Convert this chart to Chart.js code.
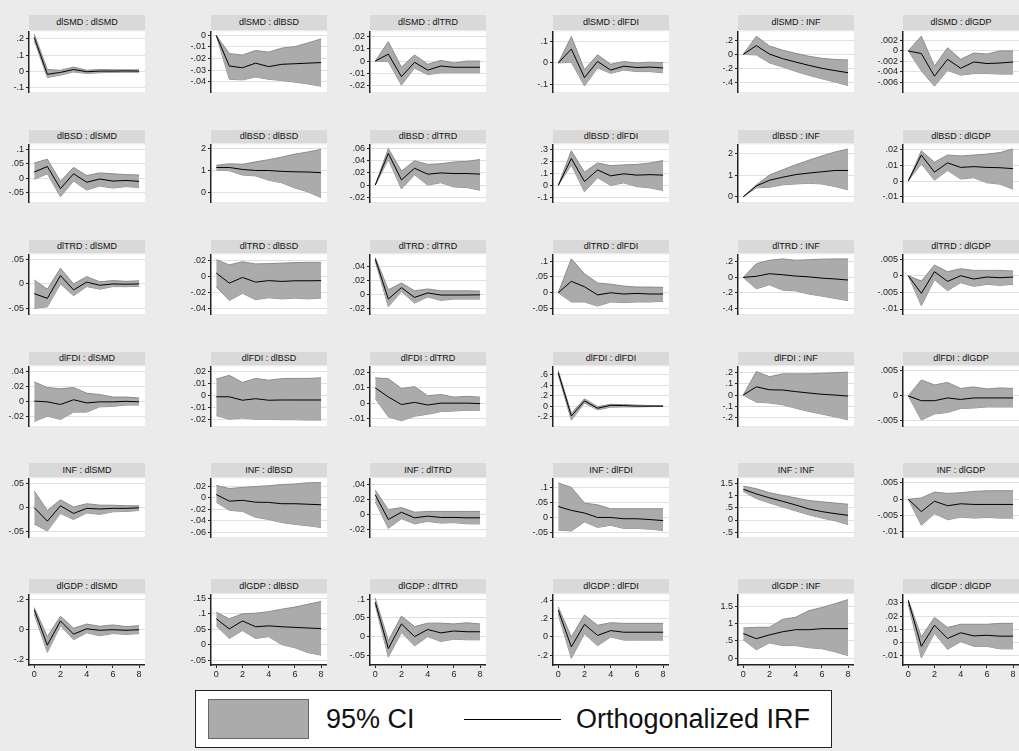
<!DOCTYPE html>
<html><head><meta charset="utf-8">
<script src="https://cdn.jsdelivr.net/npm/chart.js@4.4.1/dist/chart.umd.min.js"></script>
<style>
html,body{margin:0;padding:0;background:#ebebeb;width:1019px;height:751px;overflow:hidden;font-family:Arial,"Liberation Sans",sans-serif;}
.ttl{position:absolute;background:#d9d9d9;color:#111;font-size:9px;text-align:center;white-space:nowrap;overflow:hidden;}
canvas{position:absolute;}
#legend{position:absolute;left:195px;top:690px;width:635px;height:56px;border:1.5px solid #222;background:#fff;}
#legend .sw{position:absolute;left:12px;top:8px;width:99px;height:38px;background:#ababab;border:1px solid #666;}
#legend .t{position:absolute;top:13px;line-height:30px;font-size:27px;color:#111;white-space:nowrap;}
#legend .ln{position:absolute;left:268px;top:28px;width:97px;height:0;border-top:1.5px solid #000;}
</style></head><body>
<div id="legend"><div class="sw"></div><span class="t" style="left:130px">95% CI</span><div class="ln"></div><span class="t" style="left:380px">Orthogonalized IRF</span></div>
<script>
// ---------- DATA ----------
const steps = [0,1,2,3,4,5,6,7,8];
const xTicks = [0,2,4,6,8];
const impulses = ['dlSMD','dlBSD','dlTRD','dlFDI','INF','dlGDP'];
const responses = ['dlSMD','dlBSD','dlTRD','dlFDI','INF','dlGDP'];

// impulse dlSMD (one inner list per response)
const irf_dlSMD = [
 [0.21,-0.02,-0.008,0.01,-0.004,0,0,0.001,0],
 [0,-0.0265,-0.028,-0.024,-0.027,-0.025,-0.0245,-0.024,-0.0235],
 [0,0.0056,-0.0126,-0.001,-0.0073,-0.004,-0.005,-0.005,-0.005],
 [0,0.065,-0.068,0.007,-0.033,-0.015,-0.021,-0.019,-0.023],
 [0,0.126,0.004,-0.061,-0.11,-0.157,-0.2,-0.233,-0.263],
 [0,-0.0005,-0.0048,-0.0016,-0.0033,-0.0021,-0.0024,-0.0023,-0.0021]];
const lower_dlSMD = [
 [0.19,-0.04,-0.025,-0.005,-0.015,-0.01,-0.008,-0.007,-0.007],
 [0,-0.038,-0.0385,-0.036,-0.038,-0.039,-0.0405,-0.042,-0.044],
 [0,-0.0005,-0.0195,-0.0056,-0.011,-0.0094,-0.0094,-0.0094,-0.0094],
 [0,0.004,-0.107,-0.023,-0.048,-0.033,-0.04,-0.04,-0.046],
 [0,-0.008,-0.122,-0.18,-0.244,-0.3,-0.35,-0.397,-0.447],
 [0,-0.0038,-0.0067,-0.0037,-0.0046,-0.0043,-0.0043,-0.0044,-0.0044]];
const upper_dlSMD = [
 [0.23,0.01,0.005,0.025,0.005,0.01,0.008,0.008,0.008],
 [0,-0.0157,-0.017,-0.013,-0.0145,-0.011,-0.0097,-0.0065,-0.003],
 [0,0.0156,-0.005,0.005,-0.0026,0.0006,-0.0015,0,0],
 [0,0.123,-0.031,0.038,-0.006,0.007,0,0.004,0.001],
 [0,0.26,0.12,0.061,0.015,-0.027,-0.057,-0.073,-0.08],
 [0,0.0028,-0.0029,0.0006,-0.0016,-0.0004,-0.0006,0,0]];
const range_dlSMD = [[-0.13,0.247],[-0.049,0.0035],[-0.025,0.024],[-0.135,0.147],[-0.54,0.33],[-0.0078,0.0037]];
const ticks_dlSMD = [[-0.1,0,0.1,0.2],[-0.04,-0.03,-0.02,-0.01,0],[-0.02,-0.01,0,0.01,0.02],[-0.1,0,0.1],[-0.4,-0.2,0,0.2],[-0.006,-0.004,-0.002,0,0.002]];

// impulse dlBSD
const irf_dlBSD = [
 [0.021,0.04,-0.036,0.015,-0.014,-0.003,-0.01,-0.008,-0.011],
 [1.14,1.14,1.05,1.0,1.0,0.96,0.94,0.93,0.9],
 [0,0.052,0.0085,0.0277,0.0179,0.02,0.019,0.019,0.018],
 [0,0.223,0.032,0.128,0.079,0.096,0.085,0.089,0.085],
 [0,0.5,0.76,0.9,1.02,1.09,1.15,1.21,1.21],
 [0,0.0166,0.0057,0.0116,0.0087,0.0092,0.0087,0.0085,0.0079]];
const lower_dlBSD = [
 [-0.004,0.015,-0.064,-0.01,-0.041,-0.027,-0.034,-0.029,-0.032],
 [1.02,0.99,0.79,0.75,0.55,0.43,0.19,0.01,-0.26],
 [0,0.042,-0.0064,0.017,0,0.004,-0.003,-0.004,-0.0085],
 [0,0.17,-0.053,0.064,0,0.021,-0.01,-0.021,-0.043],
 [0,0.41,0.44,0.55,0.59,0.62,0.59,0.47,0.32],
 [0,0.011,0.0005,0.0067,0.0013,0.0021,-0.0011,-0.002,-0.0052]];
const upper_dlBSD = [
 [0.052,0.065,-0.011,0.037,0.009,0.018,0.015,0.012,0.011],
 [1.24,1.31,1.29,1.4,1.5,1.62,1.76,1.86,1.98],
 [0,0.06,0.023,0.04,0.034,0.035,0.038,0.039,0.042],
 [0,0.287,0.11,0.185,0.164,0.17,0.174,0.185,0.206],
 [0,0.55,1.0,1.24,1.47,1.68,1.88,2.06,2.2],
 [0,0.0193,0.012,0.0166,0.016,0.0166,0.0172,0.0182,0.0205]];
const range_dlBSD = [[-0.082,0.116],[-0.46,2.21],[-0.0277,0.0668],[-0.138,0.34],[-0.24,2.41],[-0.0134,0.0234]];
const ticks_dlBSD = [[-0.05,0,0.05,0.1],[0,1,2],[-0.02,0,0.02,0.04,0.06],[-0.1,0,0.1,0.2,0.3],[0,1,2],[-0.01,0,0.01,0.02]];

// impulse dlTRD
const irf_dlTRD = [
 [-0.0195,-0.029,0.0168,-0.012,0.0037,-0.0026,0,-0.0005,0],
 [0.0046,-0.0082,-0.001,-0.0069,-0.005,-0.006,-0.0052,-0.0052,-0.005],
 [0.05,-0.0068,0.0094,-0.0045,0.0019,-0.0011,-0.0011,-0.0011,-0.0008],
 [0,0.036,0.019,-0.0067,0,-0.004,-0.002,-0.004,-0.004],
 [0,0.014,0.047,0.034,0.017,0.007,-0.01,-0.02,-0.034],
 [0,-0.0053,0.0012,-0.0017,0,-0.001,-0.0004,-0.0006,-0.0004]];
const lower_dlTRD = [
 [-0.049,-0.046,0,-0.0237,-0.0053,-0.0105,-0.0053,-0.0055,-0.005],
 [-0.013,-0.03,-0.021,-0.029,-0.0266,-0.028,-0.027,-0.028,-0.027],
 [0.047,-0.0177,0.0038,-0.0125,-0.0038,-0.0087,-0.0068,-0.0068,-0.0068],
 [0,-0.029,-0.029,-0.042,-0.029,-0.031,-0.029,-0.029,-0.027],
 [0,-0.146,-0.095,-0.163,-0.173,-0.214,-0.24,-0.27,-0.3],
 [0,-0.009,-0.0012,-0.0045,-0.0021,-0.0032,-0.0026,-0.0029,-0.0026]];
const upper_dlTRD = [
 [0.008,-0.0105,0.0316,0,0.0147,0.0042,0.0068,0.0053,0.0063],
 [0.0213,0.0148,0.0187,0.016,0.0164,0.017,0.0177,0.018,0.018],
 [0.052,0.0064,0.016,0.0049,0.0075,0.0049,0.0049,0.0049,0.0045],
 [0,0.107,0.06,0.031,0.027,0.021,0.018,0.018,0.017],
 [0,0.176,0.22,0.237,0.22,0.227,0.234,0.237,0.237],
 [0,-0.0016,0.0032,0.0012,0.0021,0.0016,0.0016,0.0016,0.0014]];
const range_dlTRD = [[-0.0605,0.0595],[-0.047,0.028],[-0.028,0.0565],[-0.067,0.121],[-0.47,0.295],[-0.0115,0.0064]];
const ticks_dlTRD = [[-0.05,0,0.05],[-0.04,-0.02,0,0.02],[-0.02,0,0.02,0.04],[-0.05,0,0.05,0.1],[-0.4,-0.2,0,0.2],[-0.01,-0.005,0,0.005]];

// impulse dlFDI
const irf_dlFDI = [
 [0.001,0,-0.0035,0.0028,-0.0014,0,0,0.0007,0],
 [-0.0011,-0.0011,-0.004,-0.0027,-0.004,-0.0038,-0.0038,-0.0038,-0.0038],
 [0.0099,0.004,-0.0009,0.0005,-0.0012,0,0,0,-0.0003],
 [0.64,-0.19,0.1,-0.04,0.015,0.01,0,0,0],
 [0,0.072,0.046,0.044,0.03,0.018,0.007,0,-0.009],
 [0,-0.00095,-0.00095,-0.0004,-0.0007,-0.0004,-0.0004,-0.0004,-0.0004]];
const lower_dlFDI = [
 [-0.026,-0.019,-0.0233,-0.0136,-0.0136,-0.0066,-0.006,-0.0042,-0.0042],
 [-0.017,-0.02,-0.019,-0.02,-0.02,-0.0204,-0.0204,-0.0207,-0.0207],
 [0.003,-0.0089,-0.0114,-0.0085,-0.0072,-0.0055,-0.0051,-0.0046,-0.0046],
 [0.6,-0.27,0.06,-0.07,-0.02,-0.015,-0.015,-0.01,-0.005],
 [0,-0.062,-0.069,-0.085,-0.115,-0.143,-0.166,-0.19,-0.217],
 [0,-0.0048,-0.0036,-0.0033,-0.0025,-0.0024,-0.0022,-0.0022,-0.0022]];
const upper_dlFDI = [
 [0.0264,0.019,0.0174,0.019,0.0115,0.0097,0.0063,0.0063,0.0052],
 [0.0138,0.017,0.011,0.0144,0.0129,0.0142,0.0144,0.0144,0.0149],
 [0.0164,0.0158,0.0095,0.0107,0.0048,0.0056,0.0039,0.0044,0.0039],
 [0.68,-0.14,0.14,-0.01,0.035,0.03,0.02,0.01,0.005],
 [0,0.205,0.16,0.185,0.185,0.185,0.19,0.195,0.2],
 [0,0.0032,0.0022,0.0027,0.0015,0.0018,0.0014,0.0016,0.0015]];
const range_dlFDI = [[-0.032,0.047],[-0.0257,0.0245],[-0.0148,0.0238],[-0.38,0.76],[-0.27,0.25],[-0.006,0.0059]];
const ticks_dlFDI = [[-0.02,0,0.02,0.04],[-0.02,-0.01,0,0.01,0.02],[-0.01,0,0.01,0.02],[-0.2,0,0.2,0.4,0.6],[-0.2,-0.1,0,0.1,0.2],[-0.005,0,0.005]];

// impulse INF
const irf_INF = [
 [0,-0.028,0.0037,-0.012,-0.0016,-0.003,-0.0016,-0.0016,-0.0005],
 [0.0055,-0.006,-0.0046,-0.0078,-0.0082,-0.0105,-0.0105,-0.0114,-0.0123],
 [0.0267,-0.0062,0.0035,-0.004,-0.0017,-0.0035,-0.0035,-0.004,-0.004],
 [0.0365,0.0235,0.0148,0,0,-0.0043,-0.0043,-0.007,-0.0104],
 [1.25,1.06,0.9,0.76,0.61,0.45,0.34,0.26,0.19],
 [0,-0.0038,-0.0006,-0.002,-0.0014,-0.0016,-0.0016,-0.0016,-0.0016]];
const lower_INF = [
 [-0.034,-0.048,-0.012,-0.0246,-0.011,-0.014,-0.0086,-0.008,-0.006],
 [-0.0078,-0.022,-0.024,-0.0343,-0.038,-0.0434,-0.0466,-0.049,-0.052],
 [0.0173,-0.018,-0.0052,-0.012,-0.0087,-0.011,-0.0104,-0.012,-0.012],
 [-0.042,-0.045,-0.0148,-0.033,-0.026,-0.0365,-0.0365,-0.039,-0.0435],
 [1.16,0.87,0.69,0.53,0.37,0.21,0.08,-0.03,-0.19],
 [0,-0.008,-0.0044,-0.0063,-0.0055,-0.0058,-0.0056,-0.0058,-0.0058]];
const upper_INF = [
 [0.034,-0.006,0.016,0.001,0.008,0.005,0.0048,0.0037,0.0037],
 [0.0215,0.016,0.018,0.0195,0.021,0.023,0.024,0.026,0.0265],
 [0.033,0.0069,0.0097,0.0035,0.0045,0.0045,0.0045,0.0045,0.0045],
 [0.115,0.1,0.048,0.042,0.029,0.029,0.029,0.029,0.029],
 [1.38,1.27,1.11,1.0,0.9,0.79,0.74,0.69,0.64],
 [0,0.0004,0.0022,0.0018,0.002,0.0024,0.0026,0.0026,0.0026]];
const range_INF = [[-0.0605,0.06],[-0.0686,0.0337],[-0.0295,0.0485],[-0.065,0.13],[-0.69,1.69],[-0.0116,0.0064]];
const ticks_INF = [[-0.05,0,0.05],[-0.06,-0.04,-0.02,0,0.02],[-0.02,0,0.02,0.04],[-0.05,0,0.05,0.1],[-0.5,0,0.5,1,1.5],[-0.01,-0.005,0,0.005]];

// impulse dlGDP
const irf_dlGDP = [
 [0.132,-0.106,0.057,-0.032,0.004,-0.006,-0.002,-0.006,-0.002],
 [0.084,0.051,0.077,0.058,0.061,0.058,0.056,0.054,0.052],
 [0.092,-0.032,0.034,0,0.019,0.01,0.015,0.013,0.013],
 [0.296,-0.11,0.139,0.017,0.07,0.052,0.052,0.052,0.052],
 [0.71,0.56,0.67,0.76,0.82,0.82,0.85,0.85,0.85],
 [0.0317,-0.0029,0.0131,0.0031,0.0074,0.005,0.0055,0.0048,0.0048]];
const lower_dlGDP = [
 [0.104,-0.155,0.025,-0.07,-0.023,-0.043,-0.028,-0.034,-0.028],
 [0.061,0.02,0.046,0.02,0.026,0,-0.01,-0.026,-0.034],
 [0.085,-0.055,0.011,-0.025,0,-0.013,-0.007,-0.0085,-0.0085],
 [0.25,-0.236,0.035,-0.097,0,-0.035,-0.035,-0.035,-0.035],
 [0.53,0.24,0.44,0.36,0.36,0.3,0.27,0.18,0.07],
 [0.029,-0.0117,0.0071,-0.0052,0.0007,-0.0029,-0.0029,-0.0048,-0.0048]];
const upper_dlGDP = [
 [0.147,-0.049,0.089,0.0085,0.036,0.021,0.03,0.019,0.025],
 [0.105,0.084,0.1,0.102,0.107,0.115,0.122,0.131,0.14],
 [0.103,-0.011,0.055,0.027,0.036,0.036,0.034,0.037,0.034],
 [0.33,0,0.243,0.129,0.157,0.15,0.15,0.15,0.15],
 [0.87,0.89,0.89,1.12,1.18,1.37,1.46,1.57,1.69],
 [0.0324,0.0043,0.019,0.0114,0.0138,0.0138,0.0138,0.0145,0.0145]];
const range_dlGDP = [[-0.24,0.236],[-0.066,0.163],[-0.076,0.113],[-0.31,0.47],[-0.2,1.84],[-0.017,0.0364]];
const ticks_dlGDP = [[-0.2,0,0.2],[-0.05,0,0.05,0.1,0.15],[-0.05,0,0.05,0.1],[-0.2,0,0.2,0.4],[0,0.5,1,1.5],[-0.01,0,0.01,0.02,0.03]];

// ---------- ASSEMBLY ----------
const IRF = [irf_dlSMD, irf_dlBSD, irf_dlTRD, irf_dlFDI, irf_INF, irf_dlGDP];
const LOW = [lower_dlSMD, lower_dlBSD, lower_dlTRD, lower_dlFDI, lower_INF, lower_dlGDP];
const UPP = [upper_dlSMD, upper_dlBSD, upper_dlTRD, upper_dlFDI, upper_INF, upper_dlGDP];
const RNG = [range_dlSMD, range_dlBSD, range_dlTRD, range_dlFDI, range_INF, range_dlGDP];
const TCK = [ticks_dlSMD, ticks_dlBSD, ticks_dlTRD, ticks_dlFDI, ticks_INF, ticks_dlGDP];

// layout geometry (pixels)
const colX = [29,211,370,553,738,903];
const plotW = 116;
const titleTop = [15,130,240,352,463,579];
const titleH = [15,13,13,13,14,14];
const plotH = [78,75,77,77,76,72];
const AXW = 30, PAD = 6, XAXH = 16;

function fmt(v){
  let s = String(+Number(v).toPrecision(6));
  return s.replace(/^(-?)0\./, '$1.');
}
const plotBg = {
  id:'plotBg',
  beforeDraw(chart){
    const a = chart.chartArea, ctx = chart.ctx;
    ctx.save(); ctx.fillStyle = '#ffffff';
    ctx.fillRect(a.left, a.top, a.right - a.left, a.bottom - a.top);
    ctx.restore();
  }
};
const pts = arr => steps.map((s,i) => ({x:s, y:arr[i]}));

for (let r = 0; r < 6; r++){
  for (let c = 0; c < 6; c++){
    const last = (r === 5);
    const t = document.createElement('div');
    t.className = 'ttl';
    t.style.left = colX[c] + 'px';
    t.style.top = titleTop[r] + 'px';
    t.style.width = plotW + 'px';
    t.style.height = titleH[r] + 'px';
    t.style.lineHeight = titleH[r] + 'px';
    t.textContent = impulses[r] + ' : ' + responses[c];
    document.body.appendChild(t);

    const plotTop = titleTop[r] + titleH[r];
    const cv = document.createElement('canvas');
    const w = AXW + plotW, h = PAD + plotH[r] + (last ? XAXH : PAD);
    cv.width = w; cv.height = h;
    cv.style.width = w + 'px'; cv.style.height = h + 'px';
    cv.style.left = (colX[c] - AXW) + 'px';
    cv.style.top = (plotTop - PAD) + 'px';
    document.body.appendChild(cv);

    const yt = TCK[r][c];
    new Chart(cv, {
      type:'line',
      data:{datasets:[
        {data:pts(LOW[r][c]), borderColor:'#8c8c8c', borderWidth:1, pointRadius:0, fill:false, tension:0, order:2},
        {data:pts(UPP[r][c]), borderColor:'#8c8c8c', borderWidth:1, pointRadius:0, fill:'-1', backgroundColor:'#ababab', tension:0, order:1},
        {data:pts(IRF[r][c]), borderColor:'#000000', borderWidth:1, pointRadius:0, fill:false, tension:0, order:-1}
      ]},
      options:{
        responsive:false, animation:false, devicePixelRatio:1,
        layout:{padding:{top:PAD, bottom:last?0:PAD, left:0, right:0}},
        plugins:{legend:{display:false}, tooltip:{enabled:false}, title:{display:false}},
        scales:{
          x:{type:'linear', min:-0.4, max:8.45, display:last,
             afterBuildTicks:s=>{s.ticks = xTicks.map(v=>({value:v}));},
             afterFit:s=>{s.height = XAXH;},
             ticks:{font:{size:9, family:'Arial'}, color:'#222', padding:1, maxRotation:0, autoSkip:false},
             grid:{drawOnChartArea:false, drawTicks:true, tickLength:3, tickColor:'#222'},
             border:{display:true, color:'#222', width:1.5}},
          y:{type:'linear', min:RNG[r][c][0], max:RNG[r][c][1],
             afterBuildTicks:s=>{s.ticks = yt.map(v=>({value:v}));},
             afterFit:s=>{s.width = AXW;},
             ticks:{callback:v=>fmt(v), font:{size:9, family:'Arial'}, color:'#222', padding:2, autoSkip:false},
             grid:{color:'#e0e0e0', lineWidth:1, drawTicks:true, tickLength:3, tickColor:'#222'},
             border:{display:true, color:'#222', width:1.5}}
        }
      },
      plugins:[plotBg]
    });
  }
}
</script>
</body></html>
